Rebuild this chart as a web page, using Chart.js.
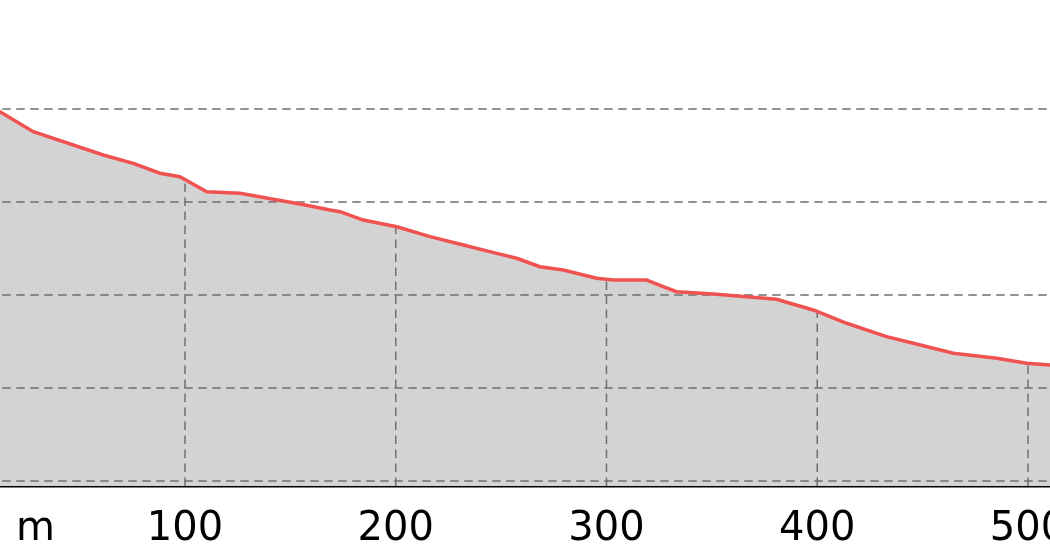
<!DOCTYPE html>
<html>
<head>
<meta charset="utf-8">
<script src="https://cdn.jsdelivr.net/npm/chart.js@4/dist/chart.umd.min.js"></script>
<style>
  html, body { margin: 0; padding: 0; background: #fff; overflow: hidden; }
  body { width: 1050px; height: 560px; position: relative; }
  #profileChart { position: absolute; left: -100px; top: 0; }
</style>
</head>
<body>
<canvas id="profileChart" width="1211" height="560"></canvas>
<script>
// distance along the route (m) and elevation profile
const distances = [0, 12.2, 28.0, 61.2, 75.5, 88.1, 97.6, 110.3, 126.1, 154.6, 168.8, 173.6,
  184.6, 200.5, 216.3, 232.1, 247.9, 257.4, 268.4, 279.5, 295.4, 303.2, 319.1, 326.9, 333.3,
  350.7, 366.5, 380.8, 387.1, 398.1, 414.0, 432.9, 445.6, 464.6, 485.2, 499.4, 510.4, 525];
const elevations = [41.3, 39.71, 37.56, 35.05, 34.16, 33.09, 32.72, 31.11, 30.94, 29.78, 29.14, 28.96,
  28.06, 27.34, 26.27, 25.38, 24.48, 23.95, 23.04, 22.69, 21.80, 21.61, 21.61, 20.89, 20.35,
  20.11, 19.82, 19.54, 19.11, 18.39, 16.96, 15.52, 14.81, 13.73, 13.19, 12.66, 12.47, 12.2];

const distTicks = [100, 200, 300, 400, 500];
const elevTicks = [0, 10, 20, 30, 40];
const unitLabel = 'm';
const unitAt = 29;

const gridColor = '#6f6f6f';

// grid: horizontal lines over the fill, vertical lines only under the profile
const profileGrid = {
  id: 'profileGrid',
  beforeDatasetDraw(chart, args) {
    const { ctx, chartArea, scales } = chart;
    const pts = args.meta.data;
    ctx.save();
    ctx.strokeStyle = gridColor;
    ctx.lineWidth = 1.5;
    ctx.setLineDash([8.5, 5.5]);
    elevTicks.forEach(v => {
      const py = scales.y.getPixelForValue(v);
      ctx.beginPath();
      ctx.moveTo(chartArea.left, py);
      ctx.lineTo(chartArea.right, py);
      ctx.stroke();
    });
    ctx.beginPath();
    ctx.moveTo(pts[0].x, chartArea.bottom);
    pts.forEach(p => ctx.lineTo(p.x, p.y));
    ctx.lineTo(pts[pts.length - 1].x, chartArea.bottom);
    ctx.closePath();
    ctx.clip();
    distTicks.forEach(v => {
      const px = scales.x.getPixelForValue(v);
      ctx.beginPath();
      ctx.moveTo(px, chartArea.bottom);
      ctx.lineTo(px, chartArea.top);
      ctx.stroke();
    });
    ctx.restore();
  }
};

new Chart(document.getElementById('profileChart'), {
  type: 'line',
  data: {
    datasets: [{
      data: distances.map((d, i) => ({ x: d, y: elevations[i] })),
      borderColor: '#f05252',
      borderWidth: 3.5,
      backgroundColor: '#d3d3d3',
      fill: 'start',
      pointRadius: 0,
      tension: 0
    }]
  },
  options: {
    responsive: false,
    animation: false,
    layout: { padding: { left: 74.25, right: 19.8, top: 34.6, bottom: 0 } },
    plugins: { legend: { display: false }, tooltip: { enabled: false } },
    scales: {
      x: {
        type: 'linear',
        min: 0,
        max: 530,
        z: 1,
        grid: { display: false, drawTicks: false },
        border: { display: true, color: '#000', width: 2.5 },
        afterBuildTicks: axis => {
          axis.ticks = distTicks.map(v => ({ value: v }));
          axis.ticks.unshift({ value: unitAt });
        },
        afterFit: axis => { axis.height = 74; },
        ticks: {
          autoSkip: false,
          maxRotation: 0,
          padding: 24,
          color: '#000',
          font: { family: 'DejaVu Sans', size: 40, lineHeight: 1 },
          callback: v => (v === unitAt ? unitLabel : v)
        }
      },
      y: {
        display: false,
        min: -0.54,
        max: 48
      }
    }
  },
  plugins: [profileGrid]
});
</script>
</body>
</html>
